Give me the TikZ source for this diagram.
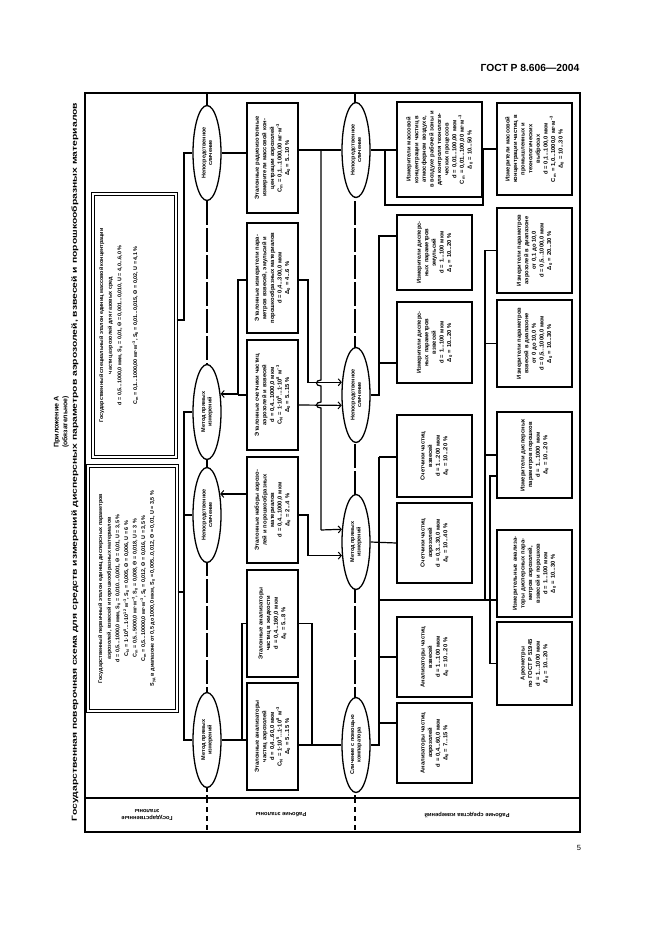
\documentclass[tikz,border=0pt]{standalone}
\usepackage{fontspec}
\setmainfont{Liberation Sans}
\usetikzlibrary{shapes.geometric,arrows.meta}
\newcommand\dz{Δ\textsubscript{0}}
\newcommand\sz{S\textsubscript{0}}
\newcommand\mt{м\textsuperscript{–3}}
\begin{document}
\begin{tikzpicture}[x=1pt,y=-1pt,
  box/.style={draw,line width=1.5pt,rotate=90,inner sep=1pt,align=center,font=\bfseries\fontsize{5.8}{7.6}\selectfont},
  gbox/.style={draw,line width=1.1pt,double,double distance=2.4pt,rotate=90},
  gtext/.style={rotate=90,anchor=north,align=center,inner sep=0pt,font=\bfseries\fontsize{5.4}{8.6}\selectfont},
  meth/.style={draw,line width=1.3pt,ellipse,rotate=90,fill=white,inner sep=0pt,minimum width=95pt,minimum height=28pt,align=center,font=\bfseries\fontsize{5.5}{6.5}\selectfont},
  ln/.style={line width=1.2pt},
  arr/.style={line width=1.2pt,-{Straight Barb[length=3pt,width=7pt,line width=1pt]}},
  axisl/.style={line width=1.2pt,dash pattern=on 24pt off 3pt},
  stripaxis/.style={line width=1.6pt,dash pattern=on 5pt off 4pt},
  lbl/.style={rotate=180,align=center,font=\bfseries\fontsize{5.8}{6.8}\selectfont}
]
\useasboundingbox (0,0) rectangle (661,936);
% header, page number
\node[font=\bfseries\fontsize{10.3}{12}\selectfont] (hdr) at (530,68) {ГОСТ Р 8.606—2004};
\node[font=\fontsize{7.5}{8}\selectfont] (pg) at (579,848) {5};
% titles
\node[rotate=90,font=\bfseries\fontsize{6.8}{8}\selectfont] (t1) at (57,422) {\scalebox{1.05}[1]{Приложение А}};
\node[rotate=90,font=\bfseries\fontsize{6.8}{8}\selectfont] (t2) at (65.5,422) {(обязательное)};
\node[rotate=90,font=\bfseries\fontsize{7.3}{8}\selectfont] (t3) at (75,462) {\scalebox{1.42}[1]{Государственная поверочная схема для средств измерений дисперсных параметров аэрозолей, взвесей и порошкообразных материалов}};
% frame
\draw[line width=1.6pt] (85,93) rectangle (580,832);
\draw[line width=1.6pt] (85,798) -- (580,798);
% axes
\draw[axisl] (207,93) -- (207,798);
\draw[axisl] (355,93) -- (355,798);
\draw[stripaxis] (207,798) -- (207,832);
\draw[stripaxis] (355,798) -- (355,832);
% strip labels
\node[lbl] (s1) at (147,815) {Государственные\\эталоны};
\node[lbl] (s2) at (281,815) {Рабочие эталоны};
\node[lbl] (s3) at (467,815) {Рабочие средства измерений};

% state standards
\node[gbox,minimum width=263pt,minimum height=83pt] (GA) at (134.5,325.5) {};
\node[gtext] (GAt) at (99,325.5) {Государственный специальный эталон единиц массовой концентрации\\частиц аэрозолей для газовых сред\\[1pt]
d = 0,5...1000,0 мкм, \sz{} = 0,01, Θ = 0,001...0,010, U = 4,0...6,0 \%\\[7pt]
C\textsubscript{m} = 0,1...1000,00 мг·\mt, \sz{} = 0,01...0,015, Θ = 0,02, U = 4,1 \%};
\node[gbox,minimum width=245pt,minimum height=89pt] (GB) at (132.5,588.5) {};
\node[gtext] (GBt) at (98,588.5) {Государственный первичный эталон единиц дисперсных параметров\\аэрозолей, взвесей и порошкообразных материалов\\
d = 0,5...1000,0 мкм, \sz{} = 0,010...0,001, Θ = 0,01, U = 3,5 \%\\
C\textsubscript{N} = 1·10\textsuperscript{8}...1·10\textsuperscript{12} \mt, \sz{} = 0,005, Θ = 0,006, U = 6 \%\\
C\textsubscript{m} = 0,5...5000,0 мг·\mt, \sz{} = 0,008, Θ = 0,018, U = 3 \%\\
C\textsubscript{m} = 0,5...10000,0 мг·\mt, \sz{} = 0,012, Θ = 0,016, U = 3,5 \%\\
S\textsubscript{уд} в диапазоне от 0,5 до 1000,0 мкм, \sz{} = 0,005...0,012, Θ = 0,01, U = 3,5 \%};

% method ellipses
\node[meth] (E1) at (207,153) {Непосредственное\\сличение};
\node[meth] (E2) at (207,412) {Метод прямых\\измерений};
\node[meth] (E3) at (207,515) {Непосредственное\\сличение};
\node[meth] (E4) at (207,740) {Метод прямых\\измерений};
\node[meth] (E5) at (356,150) {Непосредственное\\сличение};
\node[meth] (E6) at (356,395) {Непосредственное\\сличение};
\node[meth] (E7) at (356,542) {Метод прямых\\измерений};
\node[meth] (E8) at (356,745) {Сличение с помощью\\компаратора};

% working standards
\node[box,minimum width=110pt,minimum height=51pt,text width=106pt] (W1) at (272.5,158) {Эталонные радиоизотопные\\измерители массовой кон-\\центрации аэрозолей\\C\textsubscript{m} = 0,1...1000,00 мг·\mt\\\dz{} = 5...10 \%};
\node[box,minimum width=110pt,minimum height=51pt,text width=106pt] (W2) at (272.5,278) {Эталонные измерители пара-\\метров взвесей, эмульсий и\\порошкообразных материалов\\d = 0,4...300,0 мкм\\\dz{} = 4...6 \%};
\node[box,minimum width=110pt,minimum height=51pt,text width=106pt] (W3) at (272.5,395) {Эталонные счетчики частиц\\аэрозолей и взвесей\\d = 0,4...1000,0 мкм\\C\textsubscript{N} = 1·10\textsuperscript{5}...1·10\textsuperscript{8} \mt\\\dz{} = 5...15 \%};
\node[box,minimum width=106pt,minimum height=51pt,text width=102pt] (W4) at (272.5,510) {Эталонные наборы аэрозо-\\лей и порошкообразных\\материалов\\d = 0,4...1000,0 мкм\\\dz{} = 2...4 \%};
\node[box,minimum width=107pt,minimum height=51pt,text width=103pt] (W5) at (272.5,623.5) {Эталонные анализаторы\\частиц в жидкости\\d = 0,4...160,0 мкм\\\dz{} = 5...8 \%};
\node[box,minimum width=107pt,minimum height=51pt,text width=103pt] (W6) at (272.5,736.5) {Эталонные анализаторы\\частиц аэрозолей\\d = 0,4...60,0 мкм\\C\textsubscript{N} = 1·10\textsuperscript{5}...1·10\textsuperscript{8} \mt\\\dz{} = 5...15 \%};

% working instruments, inner row
\node[box,minimum width=95pt,minimum height=85pt,text width=92pt] (R1) at (439.5,149.5) {Измерители массовой\\концентрации частиц в\\атмосферном воздухе,\\в воздухе рабочей зоны и\\для контроля технологи-\\ческих процессов\\d = 0,01...100,00 мкм\\C\textsubscript{m} = 0,01...100,00 мг·\mt\\\dz{} = 10...50 \%};
\node[box,minimum width=75pt,minimum height=75pt,text width=73pt] (R2) at (434.5,252.5) {Измерители дисперс-\\ных параметров\\эмульсий\\d = 1...100 мкм\\\dz{} = 10...20 \%};
\node[box,minimum width=81pt,minimum height=75pt,text width=78pt] (R3) at (434.5,342.5) {Измерители дисперс-\\ных параметров\\взвесей\\d = 1...100 мкм\\\dz{} = 10...20 \%};
\node[box,minimum width=82pt,minimum height=75pt,text width=78pt] (R4) at (434.5,456) {Счетчики частиц\\взвесей\\d = 1...200 мкм\\\dz{} = 10...20 \%};
\node[box,minimum width=80pt,minimum height=75pt,text width=77pt] (R5) at (434.5,543) {Счетчики частиц\\аэрозолей\\d = 0,3...30,0 мкм\\\dz{} = 10...40 \%};
\node[box,minimum width=80pt,minimum height=75pt,text width=77pt] (R6) at (434.5,657) {Анализаторы частиц\\взвесей\\d = 1...100 мкм\\\dz{} = 10...20 \%};
\node[box,minimum width=80pt,minimum height=75pt,text width=77pt] (R7) at (434.5,743) {Анализаторы частиц\\аэрозолей\\d = 0,4...60,0 мкм\\\dz{} = 7...15 \%};

% working instruments, outer row
\node[box,minimum width=92pt,minimum height=75pt,text width=90pt] (O1) at (534.5,149) {Измерители массовой\\концентрации частиц в\\промышленных и\\технологических\\выбросах\\d = 0,1...100,0 мкм\\C\textsubscript{m} = 1,0...1000,0 мг·\mt\\\dz{} = 10...30 \%};
\node[box,minimum width=85pt,minimum height=75pt,text width=83pt] (O2) at (534.5,250.5) {Измерители параметров\\аэрозолей в диапазоне\\от 0,1 до 10,0\\d = 0,5...1000,0 мкм\\\dz{} = 20...30 \%};
\node[box,minimum width=87pt,minimum height=75pt,text width=84pt] (O3) at (534.5,343.5) {Измерители параметров\\взвесей в диапазоне\\от 0 до 10,0 \%\\d = 0,5...1000,0 мкм\\\dz{} = 10...30 \%};
\node[box,minimum width=86pt,minimum height=75pt,text width=84pt] (O4) at (534.5,455) {Измерители дисперсных\\параметров порошков\\d = 1...1000 мкм\\\dz{} = 10...20 \%};
\node[box,minimum width=87pt,minimum height=75pt,text width=84pt] (O5) at (534.5,573.5) {Измерительные анализа-\\торы дисперсных пара-\\метров аэрозолей,\\взвесей и порошков\\d = 1...100 мкм\\\dz{} = 10...30 \%};
\node[box,minimum width=83pt,minimum height=75pt,text width=80pt] (O6) at (534.5,663.5) {Ареометры\\по ГОСТ Р 51945\\d = 1...1000 мкм\\\dz{} = 10...20 \%};

% ---- connectors: state standards -> methods
\coordinate (bA) at (184,320);
\draw[ln] (GA.south |- bA) -- (bA) |- (E1.north);
\coordinate (bB) at (184,592);
\draw[ln] (GB.south |- bB) -- (bB) |- (E2.north);
\draw[ln] (bB) |- (E3.north);
\draw[ln] (bB) |- (E4.north);

% ---- methods axis 1 <-> working standards
\draw[ln] (E1.south) -- (E1.south -| W1.north);
\coordinate (m1) at (238,280);
\draw[arr] (W2.north |- m1) -- (m1) |- (E2.-37.6);
\draw[ln] (W3.north) -- (W3.north -| m1);
\draw[arr] (E3.-32.4 -| W4.north) -- (E3.-32.4);
\coordinate (m2) at (242,623.5);
\draw[ln] (E4.south) -- (E4.south -| W6.north);
\draw[ln] (W5.north) -- (m2) |- (E4.south);

% ---- working standards -> methods axis 2
\draw[ln] (E5.north) -- (E5.north -| W1.south);
\coordinate (v1) at (321,150);
\coordinate (h1) at (321,383);
\coordinate (h2) at (321,405);
\draw[ln] (v1) -- ([yshift=3pt]h1) .. controls +(-6,0) and +(-6,0) .. ([yshift=-3pt]h1)
  -- ([yshift=3pt]h2) .. controls +(-6,0) and +(-6,0) .. ([yshift=-3pt]h2) -- (321,530);
\draw[arr] (321,530) -- (E7.48.5);
\coordinate (m3) at (308,280);
\draw[arr] (W2.south |- m3) -- (m3) |- (E6.48.5);
\draw[arr] (W3.south |- h2) -- (E6.126.1);
\coordinate (m4) at (308,515);
\draw[arr] (W4.south |- m4) -- (m4) |- (E7.134);
\coordinate (m5) at (312,623.5);
\draw[ln] (W5.south) -- (m5) |- (E8.north);
\draw[ln] (W6.south |- E8.north) -- (E8.north);

% ---- methods axis 2 -> instruments
\draw[ln] (E5.south) -- (E5.south -| R1.north);
\coordinate (p1) at (385,150);
\coordinate (p2) at (483,205);
\draw[ln] (p1) |- (p2) |- (O1.north);
\coordinate (q1) at (379,236);
\draw[ln] (E6.south) -- (E6.south -| q1) -- (q1) -- (q1 -| R2.north);
\draw[ln] (E6.south -| q1) |- (R3.north |- 0,363);
\coordinate (q2) at (379,457);
\draw[ln] (q2) -- (R4.north |- q2);
\draw[ln] (E7.south) -- (R5.north);
\coordinate (q3) at (379,745);
\draw[ln] (q2) -- (q3) -- (E8.south);
\draw[ln] (q3 |- R6.north) -- (R6.north);
\draw[ln] (q3 |- 0,723) -- (R7.north |- 0,723);
\coordinate (q4) at (485,600);
\draw[ln] (q3 |- q4) -- (q4) |- (O2.north);
\draw[ln] (q4) |- (O3.north);
\draw[ln] (q4) |- (O4.north);
\draw[ln] (q4) -- (q4 -| O5.north);
\coordinate (q5) at (490,476);
\draw[ln] (q5 -| O4.north) -- (q5) |- (O6.north);
\end{tikzpicture}
\end{document}
